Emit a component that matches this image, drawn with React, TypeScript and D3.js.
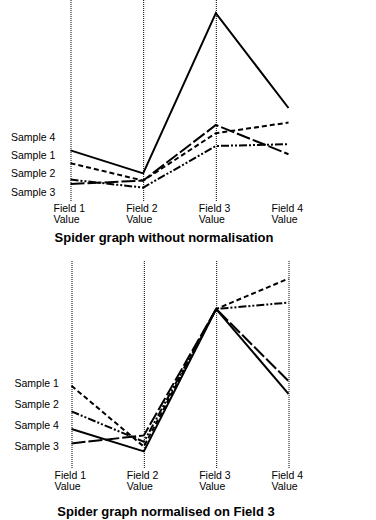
import React from 'react';
import * as d3 from 'd3';

const fields = ['Field 1', 'Field 2', 'Field 3', 'Field 4'];
const samples = ['Sample 1', 'Sample 2', 'Sample 3', 'Sample 4'];

// raw values (arbitrary units)
const rawSample1 = [18.4, 9.7, 33.4, 38.7];
const rawSample2 = [10.2, 6.2, 27.0, 27.9];
const rawSample3 = [8.0, 9.7, 37.5, 22.9];
const rawSample4 = [24.8, 13.3, 93.4, 46.0];

// values normalised on Field 3
const normSample1 = [0.52, 0.14, 1.0, 1.19];
const normSample2 = [0.36, 0.17, 1.0, 1.04];
const normSample3 = [0.16, 0.21, 1.0, 0.55];
const normSample4 = [0.25, 0.11, 1.0, 0.47];

const topLabelOrder = ['Sample 4', 'Sample 1', 'Sample 2', 'Sample 3'];
const bottomLabelOrder = ['Sample 1', 'Sample 2', 'Sample 4', 'Sample 3'];
const titleTop = 'Spider graph without normalisation';
const titleBottom = 'Spider graph normalised on Field 3';

const dashes: Record<string, string> = {
  'Sample 1': '5,3',
  'Sample 2': '8,2,2,2,2,2',
  'Sample 3': '14,3',
  'Sample 4': '',
};

const FONT = 'Liberation Sans, Arial, sans-serif';

type PanelProps = {
  series: number[][];
  yDomain: [number, number];
  yRange: [number, number];
  xRange: [number, number];
  axisTop: number;
  axisBottom: number;
  showLastAxis: boolean;
  labelOrder: string[];
  labelRange: [number, number];
  labelX: number;
  fieldBaseline: number;
  title: string;
  titleX: number;
  titleY: number;
};

function Panel(p: PanelProps) {
  const x = d3.scalePoint<string>().domain(fields).range(p.xRange);
  const y = d3.scaleLinear().domain(p.yDomain).range(p.yRange);
  const ly = d3.scalePoint<string>().domain(p.labelOrder).range(p.labelRange);
  const line = d3
    .line<number>()
    .x((_, i) => x(fields[i]) as number)
    .y((d) => y(d));
  return (
    <g>
      {fields.map((f, i) =>
        !p.showLastAxis && i === fields.length - 1 ? null : (
          <line
            key={f}
            x1={(x(f) as number) + 0.5}
            x2={(x(f) as number) + 0.5}
            y1={p.axisTop}
            y2={p.axisBottom}
            stroke="#000"
            strokeWidth={1}
            strokeDasharray="1,1"
          />
        )
      )}
      {samples.map((s, i) => (
        <path
          key={s}
          d={line(p.series[i]) as string}
          fill="none"
          stroke="#000"
          strokeWidth={2}
          strokeDasharray={dashes[s] || undefined}
        />
      ))}
      {p.labelOrder.map((s) => (
        <text key={s} x={p.labelX} y={ly(s)} fontFamily={FONT} fontSize={10.5} fill="#000">
          {s}
        </text>
      ))}
      {fields.map((f) => (
        <text key={f} x={(x(f) as number) - 17} y={p.fieldBaseline} fontFamily={FONT} fontSize={10.5} fill="#000">
          <tspan x={(x(f) as number) - 17}>{f}</tspan>
          <tspan x={(x(f) as number) - 17} dy={11}>Value</tspan>
        </text>
      ))}
      <text
        x={p.titleX}
        y={p.titleY}
        textAnchor="middle"
        fontFamily={FONT}
        fontWeight="bold"
        fontSize={13}
        fill="#000"
      >
        {p.title}
      </text>
    </g>
  );
}

export default function App() {
  return (
    <svg
      width={376}
      height={520}
      style={{ position: 'absolute', left: 0, top: 0, background: '#fff' }}
    >
      <rect width={376} height={520} fill="#fff" />
      <Panel
        series={[rawSample1, rawSample2, rawSample3, rawSample4]}
        yDomain={[0, 100]}
        yRange={[200, 0]}
        xRange={[70.5, 288.5]}
        axisTop={0}
        axisBottom={202}
        showLastAxis={false}
        labelOrder={topLabelOrder}
        labelRange={[141, 195.5]}
        labelX={11}
        fieldBaseline={212}
        title={titleTop}
        titleX={164}
        titleY={242}
      />
      <Panel
        series={[normSample1, normSample2, normSample3, normSample4]}
        yDomain={[0, 1]}
        yRange={[469, 309]}
        xRange={[71.5, 288.5]}
        axisTop={261}
        axisBottom={469}
        showLastAxis={true}
        labelOrder={bottomLabelOrder}
        labelRange={[387, 450]}
        labelX={14.5}
        fieldBaseline={479}
        title={titleBottom}
        titleX={166}
        titleY={516}
      />
    </svg>
  );
}
